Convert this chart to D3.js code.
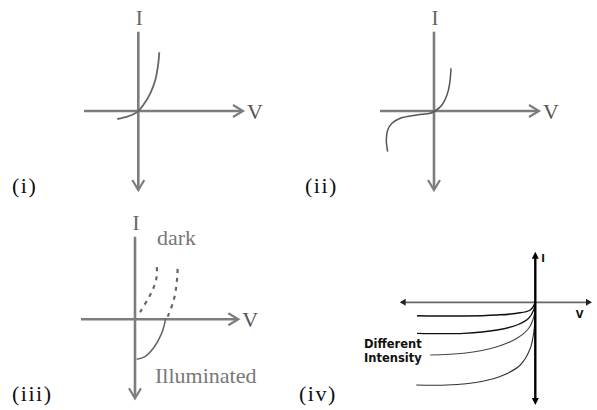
<!DOCTYPE html>
<html><head><meta charset="utf-8">
<script src="https://cdn.jsdelivr.net/npm/d3@7"></script>
<style>html,body{margin:0;padding:0;background:#fff;}svg{display:block;}</style>
</head><body>
<script>
// ---------- DATA (arbitrary V / I units) ----------
const panelLabels = ["(i)", "(ii)", "(iii)", "(iv)"];
const axisLabelV = "V";
const axisLabelI = "I";
// (i) ordinary diode
const curveI_V = [-2.1, -1.1, -0.3, 0, 0.5, 1.2, 1.7, 2.0, 2.1];
const curveI_I = [-0.8, -0.57, -0.23, 0, 0.6, 1.77, 3.1, 4.77, 5.87];
// (ii) zener-like
const curveII_V = [-4.63, -4.77, -4.63, -4.2, -3.37, -1.7, -0.37, 0.1, 0.8, 1.3, 1.57, 1.7];
const curveII_I = [-4.07, -2.9, -1.9, -1.23, -0.73, -0.4, -0.23, 0, 0.6, 1.6, 2.77, 4.27];
// (iii) solar cell
const darkA_V = [0.5, 1.33, 1.83, 2.17, 2.17];
const darkA_I = [0.7, 2.1, 3.1, 4.27, 5.43];
const darkB_V = [3.27, 3.83, 4.1, 4.23, 4.27];
const darkB_I = [0.27, 1.77, 3.1, 4.27, 5.43];
const illum_V = [3.07, 2.67, 1.83, 1.0, 0.17];
const illum_I = [0.1, -1.4, -2.9, -3.73, -4.0];
const labelDark = "dark";
const labelIllum = "Illuminated";
// (iv) photodiode, different intensities
const intensity1_V = [-11.83, -7.16, -3.83, -1.83, -0.5, 0];
const intensity1_I = [-1.34, -1.37, -1.27, -1.1, -0.77, -0.05];
const intensity2_V = [-11.83, -7.16, -3.83, -1.83, -0.66, -0.16, 0];
const intensity2_I = [-3.1, -3.1, -2.77, -2.27, -1.6, -0.77, -0.05];
const intensity3_V = [-10.5, -7.16, -3.83, -1.83, -0.66, -0.1, 0];
const intensity3_I = [-5.27, -5.1, -4.44, -3.6, -2.6, -1.27, -0.05];
const intensity4_V = [-11.9, -8.83, -5.5, -3.16, -1.5, -0.5, -0.1, 0];
const intensity4_I = [-8.27, -8.27, -7.94, -7.27, -6.27, -4.6, -2.6, -0.05];
const labelIntensity = ["Different", "Intensity"];

// ---------- LAYOUT ----------
const W = 597, H = 410;
const svg = d3.select("body").append("svg").attr("width", W).attr("height", H);
const zip = (xs, ys) => xs.map((x, i) => [x, ys[i]]);

function makePanel(ox, oy, xd, yd, unit) {
  const x = d3.scaleLinear().domain(xd).range([ox + xd[0] * unit, ox + xd[1] * unit]);
  const y = d3.scaleLinear().domain(yd).range([oy - yd[0] * unit, oy - yd[1] * unit]);
  return {x, y};
}
const serif = "'Liberation Serif', 'Times New Roman', serif";
const grey = "#7d7d7d";

function chevron(g, tip, dir, len, half, color, w) {
  // dir: 'r','d','u','l'
  let p;
  const [tx, ty] = tip;
  if (dir === 'r') p = [[tx - len, ty - half], [tx, ty], [tx - len, ty + half]];
  if (dir === 'd') p = [[tx - half, ty - len], [tx, ty], [tx + half, ty - len]];
  g.append("path").attr("d", d3.line()(p)).attr("fill", "none")
    .attr("stroke", color).attr("stroke-width", w).attr("stroke-linejoin", "miter");
}
function triangle(g, tip, dir, len, half, color) {
  const [tx, ty] = tip;
  let p;
  if (dir === 'r') p = [[tx, ty], [tx - len, ty - half], [tx - len, ty + half]];
  if (dir === 'l') p = [[tx, ty], [tx + len, ty - half], [tx + len, ty + half]];
  if (dir === 'u') p = [[tx, ty], [tx - half, ty + len], [tx + half, ty + len]];
  if (dir === 'd') p = [[tx, ty], [tx - half, ty - len], [tx + half, ty - len]];
  g.append("path").attr("d", d3.line()(p) + "Z").attr("fill", color);
}

function serifAxes(g, s, xd, yd) {
  const {x, y} = s;
  g.append("line").attr("x1", x(xd[0])).attr("x2", x(xd[1]) - 1).attr("y1", y(0)).attr("y2", y(0))
    .attr("stroke", grey).attr("stroke-width", 2.6);
  g.append("line").attr("x1", x(0)).attr("x2", x(0)).attr("y1", y(yd[0])).attr("y2", y(yd[1]) - 1)
    .attr("stroke", grey).attr("stroke-width", 2.6);
  chevron(g, [x(xd[1]), y(0)], 'r', 10, 6, grey, 2.2);
  chevron(g, [x(0), y(yd[1])], 'd', 10, 6, grey, 2.2);
  g.append("text").attr("x", x(0) + 1).attr("y", y(yd[0]) - 7).attr("text-anchor", "middle")
    .attr("font-family", serif).attr("font-size", 21).attr("fill", "#666").text(axisLabelI);
  g.append("text").attr("x", x(xd[1]) + 4).attr("y", y(0) + 7.5)
    .attr("font-family", serif).attr("font-size", 22).attr("fill", "#555").text(axisLabelV);
}
const line = (s) => d3.line().x(d => s.x(d[0])).y(d => s.y(d[1])).curve(d3.curveCatmullRom.alpha(0.5));

function panelLabel(txt, px, py) {
  svg.append("text").attr("x", px).attr("y", py).attr("font-family", serif)
    .attr("font-size", 22).attr("letter-spacing", 1.5).attr("fill", "#111").text(txt);
}

// Panel (i)
{
  const xd = [-5.43, 10.47], yd = [7.93, -7.9];
  const s = makePanel(138.3, 111, xd, yd, 10);
  const g = svg.append("g");
  serifAxes(g, s, xd, yd);
  g.append("path").attr("d", line(s)(zip(curveI_V, curveI_I))).attr("fill", "none")
    .attr("stroke", "#666").attr("stroke-width", 1.8);
  panelLabel(panelLabels[0], 12, 193);
}
// Panel (ii)
{
  const xd = [-5.4, 10.5], yd = [7.93, -7.9];
  const s = makePanel(434, 111, xd, yd, 10);
  const g = svg.append("g");
  serifAxes(g, s, xd, yd);
  g.append("path").attr("d", line(s)(zip(curveII_V, curveII_I))).attr("fill", "none")
    .attr("stroke", "#555").attr("stroke-width", 1.5);
  panelLabel(panelLabels[1], 305, 193);
}
// Panel (iii)
{
  const xd = [-5.4, 10.33], yd = [8.26, -7.9];
  const s = makePanel(135, 319.3, xd, yd, 10);
  const g = svg.append("g");
  serifAxes(g, s, xd, yd);
  [zip(darkA_V, darkA_I), zip(darkB_V, darkB_I)].forEach(d => {
    g.append("path").attr("d", line(s)(d)).attr("fill", "none")
      .attr("stroke", "#666").attr("stroke-width", 2.2).attr("stroke-dasharray", "4,5");
  });
  g.append("path").attr("d", line(s)(zip(illum_V, illum_I))).attr("fill", "none")
    .attr("stroke", "#666").attr("stroke-width", 1.6);
  g.append("text").attr("x", s.x(2.2)).attr("y", s.y(7.4)).attr("font-family", serif)
    .attr("font-size", 22).attr("fill", "#777").text(labelDark);
  g.append("text").attr("x", s.x(2.0)).attr("y", s.y(-6.4)).attr("font-family", serif)
    .attr("font-size", 22).attr("fill", "#777").text(labelIllum);
  panelLabel(panelLabels[2], 12, 401);
}
// Panel (iv)
{
  const xd = [-13.56, 5.67], yd = [5.06, -10.27];
  const s = makePanel(535.3, 302.3, xd, yd, 10);
  const g = svg.append("g");
  const {x, y} = s;
  g.append("line").attr("x1", x(xd[0]) + 4).attr("x2", x(xd[1]) - 4).attr("y1", y(0)).attr("y2", y(0))
    .attr("stroke", "#666").attr("stroke-width", 1.8);
  triangle(g, [x(xd[0]), y(0)], 'l', 6, 3.5, "#222");
  triangle(g, [x(xd[1]), y(0)], 'r', 6, 3.5, "#222");
  const curves = [
    [zip(intensity1_V, intensity1_I), "#111", 1.5],
    [zip(intensity2_V, intensity2_I), "#111", 1.3],
    [zip(intensity3_V, intensity3_I), "#444", 1.1],
    [zip(intensity4_V, intensity4_I), "#333", 1.1]
  ];
  curves.forEach(([d, c, w]) => {
    g.append("path").attr("d", line(s)(d)).attr("fill", "none").attr("stroke", c).attr("stroke-width", w);
  });
  g.append("line").attr("x1", x(0)).attr("x2", x(0)).attr("y1", y(yd[0]) + 4).attr("y2", y(yd[1]) - 4)
    .attr("stroke", "#000").attr("stroke-width", 2.4);
  triangle(g, [x(0), y(yd[0])], 'u', 7, 3.5, "#000");
  triangle(g, [x(0), y(yd[1])], 'd', 7, 3.5, "#000");
  g.append("text").attr("x", x(0) + 6).attr("y", y(4.0)).attr("font-family", "'DejaVu Sans', sans-serif")
    .attr("font-weight", "bold").attr("font-size", 10).attr("fill", "#111").text(axisLabelI);
  g.append("text").attr("x", x(4.05)).attr("y", y(-1.6)).attr("font-family", "'DejaVu Sans', sans-serif")
    .attr("font-weight", "bold").attr("font-size", 10).attr("fill", "#111").text(axisLabelV);
  labelIntensity.forEach((t, i) => {
    g.append("text").attr("x", 364).attr("y", 347.5 + i * 14.5).attr("font-family", "'DejaVu Sans', sans-serif")
      .attr("font-weight", "bold").attr("font-size", 11.5).attr("fill", "#111").text(t);
  });
  panelLabel(panelLabels[3], 299, 401);
}
</script>
</body></html>
